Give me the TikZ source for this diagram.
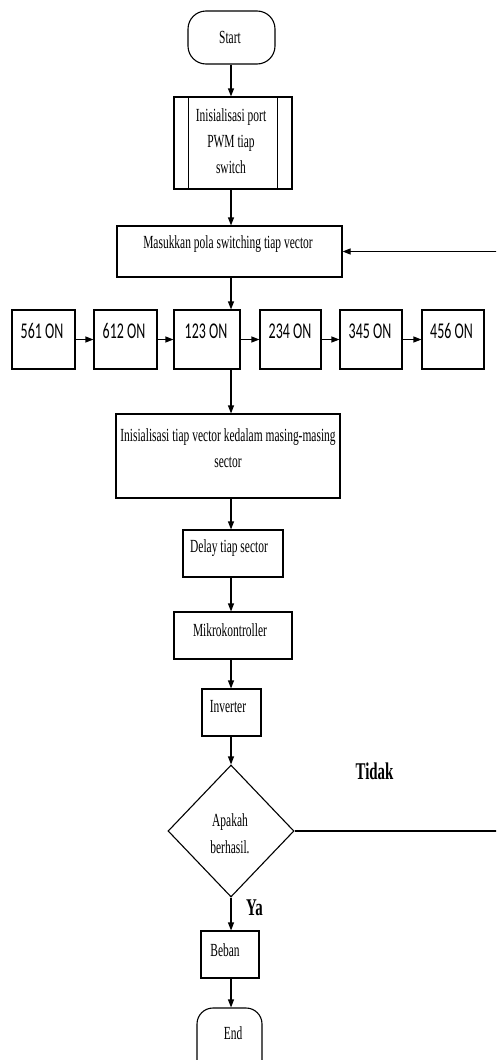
\documentclass[tikz,border=0pt]{standalone}
\usepackage{fontspec}
\setmainfont{Liberation Serif}[FakeStretch=0.62]
\newfontfamily\calib{Carlito}[FakeStretch=0.62]
\usetikzlibrary{arrows.meta,shapes.geometric}
\begin{document}
\begin{tikzpicture}[x=1pt,y=-1pt,
  box/.style={draw,line width=1.1pt,inner sep=0pt,rectangle},
  txt/.style={inner sep=0pt,align=center,font=\fontsize{18.5}{26}\selectfont},
  ontxt/.style={inner sep=0pt,font=\calib\fontsize{22.5}{26}\selectfont},
  lbl/.style={inner sep=0pt,font=\bfseries\fontsize{24}{28}\selectfont},
  arr/.style={draw,line width=1.1pt,-{Triangle[length=8pt,width=6pt]}},
  ln/.style={draw,line width=1.1pt},
]
\useasboundingbox (0,0) rectangle (496,1060);
\fill[white] (0,0) rectangle (496,1060);
\clip (0,0) rectangle (496,1060);
\coordinate (col) at (231,0);
\coordinate (rt) at (500,0);

% main column
\node[box,minimum width=87pt,minimum height=53pt,rounded corners=18pt] (start) at (231.5,37.5) {};
\node[txt] (tstart) at (230,37.5) {Start};

\node[box,minimum width=118pt,minimum height=92pt] (init) at (233,143) {};
\draw[ln] ([xshift=15pt]init.north west) -- ([xshift=15pt]init.south west);
\draw[ln] ([xshift=-15pt]init.north east) -- ([xshift=-15pt]init.south east);
\node[txt] (tinit) at (231,141) {Inisialisasi port\\PWM tiap\\switch};

\node[box,minimum width=225pt,minimum height=51pt] (mas) at (229.5,251.5) {};
\node[txt] (tmas) at (228,244) {Masukkan pola switching tiap vector};

% row of vectors
\node[box,minimum width=63pt,minimum height=59pt] (b561) at (43.5,339.5) {};
\node[box,minimum width=63pt,minimum height=59pt] (b612) at (125.5,339.5) {};
\node[box,minimum width=66pt,minimum height=59pt] (b123) at (207,339.5) {};
\node[box,minimum width=61pt,minimum height=59pt] (b234) at (290.5,339.5) {};
\node[box,minimum width=62pt,minimum height=59pt] (b345) at (371,339.5) {};
\node[box,minimum width=62pt,minimum height=59pt] (b456) at (453,339.5) {};
\node[ontxt] (t561) at (42,331) {561 ON};
\node[ontxt] (t612) at (124,331) {612 ON};
\node[ontxt] (t123) at (206,331) {123 ON};
\node[ontxt] (t234) at (290,331) {234 ON};
\node[ontxt] (t345) at (370,331) {345 ON};
\node[ontxt] (t456) at (451.5,331) {456 ON};

\node[box,minimum width=224pt,minimum height=84pt] (vec) at (228,456) {};
\node[txt] (tvec) at (228,448) {Inisialisasi tiap vector kedalam masing-masing\\sector};

\node[box,minimum width=100pt,minimum height=47pt] (delay) at (233,553.5) {};
\node[txt] (tdelay) at (229,548) {Delay tiap sector};

\node[box,minimum width=118pt,minimum height=47pt] (mikro) at (233,635.5) {};
\node[txt] (tmikro) at (230,630) {Mikrokontroller};

\node[box,minimum width=59pt,minimum height=47pt] (inv) at (231.5,712.5) {};
\node[txt] (tinv) at (228,707) {Inverter};

\node[draw,diamond,minimum width=126pt,minimum height=132pt,inner sep=0pt,line width=1.1pt] (dia) at (231,831) {};
\node[txt,font=\fontsize{18.5}{27}\selectfont] (tdia) at (230,834) {Apakah\\berhasil.};

\node[box,minimum width=58pt,minimum height=47pt] (beban) at (230,954.5) {};
\node[txt] (tbeban) at (225,950) {Beban};

\node[box,minimum width=65pt,minimum height=80pt,rounded corners=16pt] (end) at (229.5,1048) {};
\node[txt] (tend) at (233,1033) {End};

\node[lbl] (tidak) at (374.5,771.5) {Tidak};
\node[lbl] (ya) at (254.5,908) {Ya};

% connectors
\draw[arr] (start.south -| col) -- (init.north -| col);
\draw[arr] (init.south -| col) -- (mas.north -| col);
\draw[arr] (mas.south -| col) -- (b123.north -| col);
\draw[arr] (b561.east) -- (b612.west);
\draw[arr] (b612.east) -- (b123.west);
\draw[arr] (b123.east) -- (b234.west);
\draw[arr] (b234.east) -- (b345.west);
\draw[arr] (b345.east) -- (b456.west);
\draw[arr] (b123.south -| col) -- (vec.north -| col);
\draw[arr] (vec.south -| col) -- (delay.north -| col);
\draw[arr] (delay.south -| col) -- (mikro.north -| col);
\draw[arr] (mikro.south -| col) -- (inv.north -| col);
\draw[arr] (inv.south -| col) -- (dia.north);
\draw[arr] (dia.south) -- (beban.north -| col);
\draw[arr] (beban.south -| col) -- (end.north -| col);
\draw[arr] (dia.east) -- (dia.east -| rt) -- (mas.east -| rt) -- (mas.east);
\end{tikzpicture}
\end{document}
